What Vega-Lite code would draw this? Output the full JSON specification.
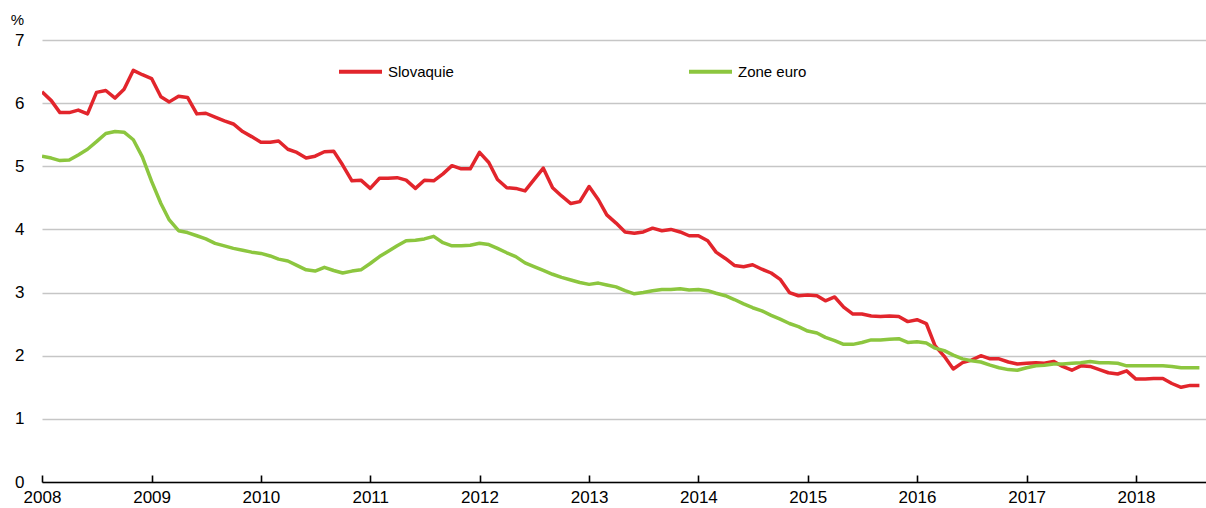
{
  "$schema": "https://vega.github.io/schema/vega-lite/v6.json",
  "width": 1164,
  "height": 442,
  "autosize": {"type": "none"},
  "padding": {"left": 42, "top": 40, "right": 0, "bottom": 26},
  "background": "white",
  "config": {
    "view": {"stroke": null},
    "font": "Liberation Sans, Arial, sans-serif"
  },
  "datasets": {
    "rates": [
      {"month": "2008-01-01", "Slovaquie": 6.18, "Zone euro": 5.16},
      {"month": "2008-02-01", "Slovaquie": 6.04, "Zone euro": 5.13},
      {"month": "2008-03-01", "Slovaquie": 5.85, "Zone euro": 5.09},
      {"month": "2008-04-01", "Slovaquie": 5.85, "Zone euro": 5.10},
      {"month": "2008-05-01", "Slovaquie": 5.89, "Zone euro": 5.18},
      {"month": "2008-06-01", "Slovaquie": 5.83, "Zone euro": 5.27},
      {"month": "2008-07-01", "Slovaquie": 6.17, "Zone euro": 5.39},
      {"month": "2008-08-01", "Slovaquie": 6.20, "Zone euro": 5.52},
      {"month": "2008-09-01", "Slovaquie": 6.08, "Zone euro": 5.55},
      {"month": "2008-10-01", "Slovaquie": 6.22, "Zone euro": 5.54},
      {"month": "2008-11-01", "Slovaquie": 6.52, "Zone euro": 5.42},
      {"month": "2008-12-01", "Slovaquie": 6.45, "Zone euro": 5.15},
      {"month": "2009-01-01", "Slovaquie": 6.39, "Zone euro": 4.76},
      {"month": "2009-02-01", "Slovaquie": 6.10, "Zone euro": 4.41},
      {"month": "2009-03-01", "Slovaquie": 6.02, "Zone euro": 4.15},
      {"month": "2009-04-01", "Slovaquie": 6.11, "Zone euro": 3.98},
      {"month": "2009-05-01", "Slovaquie": 6.09, "Zone euro": 3.95},
      {"month": "2009-06-01", "Slovaquie": 5.83, "Zone euro": 3.90},
      {"month": "2009-07-01", "Slovaquie": 5.84, "Zone euro": 3.85},
      {"month": "2009-08-01", "Slovaquie": 5.78, "Zone euro": 3.78},
      {"month": "2009-09-01", "Slovaquie": 5.72, "Zone euro": 3.74},
      {"month": "2009-10-01", "Slovaquie": 5.67, "Zone euro": 3.70},
      {"month": "2009-11-01", "Slovaquie": 5.55, "Zone euro": 3.67},
      {"month": "2009-12-01", "Slovaquie": 5.47, "Zone euro": 3.64},
      {"month": "2010-01-01", "Slovaquie": 5.38, "Zone euro": 3.62},
      {"month": "2010-02-01", "Slovaquie": 5.38, "Zone euro": 3.58},
      {"month": "2010-03-01", "Slovaquie": 5.40, "Zone euro": 3.53},
      {"month": "2010-04-01", "Slovaquie": 5.27, "Zone euro": 3.50},
      {"month": "2010-05-01", "Slovaquie": 5.22, "Zone euro": 3.43},
      {"month": "2010-06-01", "Slovaquie": 5.13, "Zone euro": 3.36},
      {"month": "2010-07-01", "Slovaquie": 5.16, "Zone euro": 3.34},
      {"month": "2010-08-01", "Slovaquie": 5.23, "Zone euro": 3.40},
      {"month": "2010-09-01", "Slovaquie": 5.24, "Zone euro": 3.35},
      {"month": "2010-10-01", "Slovaquie": 5.02, "Zone euro": 3.31},
      {"month": "2010-11-01", "Slovaquie": 4.77, "Zone euro": 3.34},
      {"month": "2010-12-01", "Slovaquie": 4.78, "Zone euro": 3.36},
      {"month": "2011-01-01", "Slovaquie": 4.65, "Zone euro": 3.46},
      {"month": "2011-02-01", "Slovaquie": 4.81, "Zone euro": 3.57},
      {"month": "2011-03-01", "Slovaquie": 4.81, "Zone euro": 3.65},
      {"month": "2011-04-01", "Slovaquie": 4.82, "Zone euro": 3.74},
      {"month": "2011-05-01", "Slovaquie": 4.78, "Zone euro": 3.82},
      {"month": "2011-06-01", "Slovaquie": 4.65, "Zone euro": 3.83},
      {"month": "2011-07-01", "Slovaquie": 4.78, "Zone euro": 3.85},
      {"month": "2011-08-01", "Slovaquie": 4.77, "Zone euro": 3.89},
      {"month": "2011-09-01", "Slovaquie": 4.88, "Zone euro": 3.79},
      {"month": "2011-10-01", "Slovaquie": 5.01, "Zone euro": 3.74},
      {"month": "2011-11-01", "Slovaquie": 4.96, "Zone euro": 3.74},
      {"month": "2011-12-01", "Slovaquie": 4.96, "Zone euro": 3.75},
      {"month": "2012-01-01", "Slovaquie": 5.22, "Zone euro": 3.78},
      {"month": "2012-02-01", "Slovaquie": 5.06, "Zone euro": 3.76},
      {"month": "2012-03-01", "Slovaquie": 4.79, "Zone euro": 3.70},
      {"month": "2012-04-01", "Slovaquie": 4.66, "Zone euro": 3.63},
      {"month": "2012-05-01", "Slovaquie": 4.65, "Zone euro": 3.57},
      {"month": "2012-06-01", "Slovaquie": 4.61, "Zone euro": 3.47},
      {"month": "2012-07-01", "Slovaquie": 4.79, "Zone euro": 3.41},
      {"month": "2012-08-01", "Slovaquie": 4.97, "Zone euro": 3.35},
      {"month": "2012-09-01", "Slovaquie": 4.66, "Zone euro": 3.29},
      {"month": "2012-10-01", "Slovaquie": 4.53, "Zone euro": 3.24},
      {"month": "2012-11-01", "Slovaquie": 4.41, "Zone euro": 3.20},
      {"month": "2012-12-01", "Slovaquie": 4.44, "Zone euro": 3.16},
      {"month": "2013-01-01", "Slovaquie": 4.68, "Zone euro": 3.13},
      {"month": "2013-02-01", "Slovaquie": 4.47, "Zone euro": 3.15},
      {"month": "2013-03-01", "Slovaquie": 4.23, "Zone euro": 3.12},
      {"month": "2013-04-01", "Slovaquie": 4.10, "Zone euro": 3.09},
      {"month": "2013-05-01", "Slovaquie": 3.96, "Zone euro": 3.03},
      {"month": "2013-06-01", "Slovaquie": 3.94, "Zone euro": 2.98},
      {"month": "2013-07-01", "Slovaquie": 3.96, "Zone euro": 3.00},
      {"month": "2013-08-01", "Slovaquie": 4.02, "Zone euro": 3.03},
      {"month": "2013-09-01", "Slovaquie": 3.98, "Zone euro": 3.05},
      {"month": "2013-10-01", "Slovaquie": 4.00, "Zone euro": 3.05},
      {"month": "2013-11-01", "Slovaquie": 3.96, "Zone euro": 3.06},
      {"month": "2013-12-01", "Slovaquie": 3.90, "Zone euro": 3.04},
      {"month": "2014-01-01", "Slovaquie": 3.90, "Zone euro": 3.05},
      {"month": "2014-02-01", "Slovaquie": 3.82, "Zone euro": 3.03},
      {"month": "2014-03-01", "Slovaquie": 3.64, "Zone euro": 2.99},
      {"month": "2014-04-01", "Slovaquie": 3.54, "Zone euro": 2.95},
      {"month": "2014-05-01", "Slovaquie": 3.43, "Zone euro": 2.89},
      {"month": "2014-06-01", "Slovaquie": 3.41, "Zone euro": 2.82},
      {"month": "2014-07-01", "Slovaquie": 3.44, "Zone euro": 2.76},
      {"month": "2014-08-01", "Slovaquie": 3.37, "Zone euro": 2.71},
      {"month": "2014-09-01", "Slovaquie": 3.31, "Zone euro": 2.64},
      {"month": "2014-10-01", "Slovaquie": 3.21, "Zone euro": 2.58},
      {"month": "2014-11-01", "Slovaquie": 3.00, "Zone euro": 2.51},
      {"month": "2014-12-01", "Slovaquie": 2.95, "Zone euro": 2.46},
      {"month": "2015-01-01", "Slovaquie": 2.96, "Zone euro": 2.39},
      {"month": "2015-02-01", "Slovaquie": 2.95, "Zone euro": 2.36},
      {"month": "2015-03-01", "Slovaquie": 2.87, "Zone euro": 2.29},
      {"month": "2015-04-01", "Slovaquie": 2.93, "Zone euro": 2.24},
      {"month": "2015-05-01", "Slovaquie": 2.77, "Zone euro": 2.18},
      {"month": "2015-06-01", "Slovaquie": 2.66, "Zone euro": 2.18},
      {"month": "2015-07-01", "Slovaquie": 2.66, "Zone euro": 2.21},
      {"month": "2015-08-01", "Slovaquie": 2.63, "Zone euro": 2.25},
      {"month": "2015-09-01", "Slovaquie": 2.62, "Zone euro": 2.25},
      {"month": "2015-10-01", "Slovaquie": 2.63, "Zone euro": 2.26},
      {"month": "2015-11-01", "Slovaquie": 2.62, "Zone euro": 2.27},
      {"month": "2015-12-01", "Slovaquie": 2.54, "Zone euro": 2.21},
      {"month": "2016-01-01", "Slovaquie": 2.57, "Zone euro": 2.22},
      {"month": "2016-02-01", "Slovaquie": 2.51, "Zone euro": 2.20},
      {"month": "2016-03-01", "Slovaquie": 2.16, "Zone euro": 2.12},
      {"month": "2016-04-01", "Slovaquie": 1.99, "Zone euro": 2.08},
      {"month": "2016-05-01", "Slovaquie": 1.79, "Zone euro": 2.01},
      {"month": "2016-06-01", "Slovaquie": 1.89, "Zone euro": 1.95},
      {"month": "2016-07-01", "Slovaquie": 1.93, "Zone euro": 1.92},
      {"month": "2016-08-01", "Slovaquie": 2.00, "Zone euro": 1.90},
      {"month": "2016-09-01", "Slovaquie": 1.95, "Zone euro": 1.85},
      {"month": "2016-10-01", "Slovaquie": 1.95, "Zone euro": 1.81},
      {"month": "2016-11-01", "Slovaquie": 1.90, "Zone euro": 1.78},
      {"month": "2016-12-01", "Slovaquie": 1.87, "Zone euro": 1.77},
      {"month": "2017-01-01", "Slovaquie": 1.88, "Zone euro": 1.81},
      {"month": "2017-02-01", "Slovaquie": 1.89, "Zone euro": 1.84},
      {"month": "2017-03-01", "Slovaquie": 1.88, "Zone euro": 1.85},
      {"month": "2017-04-01", "Slovaquie": 1.91, "Zone euro": 1.87},
      {"month": "2017-05-01", "Slovaquie": 1.83, "Zone euro": 1.87},
      {"month": "2017-06-01", "Slovaquie": 1.77, "Zone euro": 1.88},
      {"month": "2017-07-01", "Slovaquie": 1.84, "Zone euro": 1.89},
      {"month": "2017-08-01", "Slovaquie": 1.83, "Zone euro": 1.91},
      {"month": "2017-09-01", "Slovaquie": 1.78, "Zone euro": 1.89},
      {"month": "2017-10-01", "Slovaquie": 1.73, "Zone euro": 1.89},
      {"month": "2017-11-01", "Slovaquie": 1.71, "Zone euro": 1.88},
      {"month": "2017-12-01", "Slovaquie": 1.76, "Zone euro": 1.84},
      {"month": "2018-01-01", "Slovaquie": 1.63, "Zone euro": 1.84},
      {"month": "2018-02-01", "Slovaquie": 1.63, "Zone euro": 1.84},
      {"month": "2018-03-01", "Slovaquie": 1.64, "Zone euro": 1.84},
      {"month": "2018-04-01", "Slovaquie": 1.64, "Zone euro": 1.84},
      {"month": "2018-05-01", "Slovaquie": 1.56, "Zone euro": 1.83},
      {"month": "2018-06-01", "Slovaquie": 1.50, "Zone euro": 1.81},
      {"month": "2018-07-01", "Slovaquie": 1.53, "Zone euro": 1.81},
      {"month": "2018-08-01", "Slovaquie": 1.53, "Zone euro": 1.81}
    ]
  },
  "data": {"name": "rates"},
  "transform": [
    {"fold": ["Slovaquie", "Zone euro"], "as": ["series", "value"]}
  ],
  "mark": {"type": "line", "strokeWidth": 3.5, "strokeJoin": "round", "clip": true},
  "encoding": {
    "x": {
      "field": "month",
      "type": "temporal",
      "scale": {
        "type": "utc",
        "domain": [
          {"year": 2008, "month": 1, "date": 1, "utc": true},
          {"year": 2018, "month": 8, "date": 23, "utc": true}
        ]
      },
      "axis": {
        "title": null,
        "format": "%Y",
        "formatType": "utc",
        "values": [
          {"year": 2008, "month": 1, "date": 1, "utc": true},
          {"year": 2009, "month": 1, "date": 1, "utc": true},
          {"year": 2010, "month": 1, "date": 1, "utc": true},
          {"year": 2011, "month": 1, "date": 1, "utc": true},
          {"year": 2012, "month": 1, "date": 1, "utc": true},
          {"year": 2013, "month": 1, "date": 1, "utc": true},
          {"year": 2014, "month": 1, "date": 1, "utc": true},
          {"year": 2015, "month": 1, "date": 1, "utc": true},
          {"year": 2016, "month": 1, "date": 1, "utc": true},
          {"year": 2017, "month": 1, "date": 1, "utc": true},
          {"year": 2018, "month": 1, "date": 1, "utc": true}
        ],
        "grid": false,
        "domain": true,
        "domainColor": "#000000",
        "domainWidth": 1.6,
        "ticks": true,
        "tickSize": -7,
        "tickColor": "#000000",
        "tickWidth": 1.6,
        "labelPadding": 27,
        "labelFontSize": 17,
        "labelColor": "#000000",
        "labelFlush": false,
        "labelOverlap": false,
        "labelBaseline": "alphabetic"
      }
    },
    "y": {
      "field": "value",
      "type": "quantitative",
      "scale": {"domain": [0, 7], "nice": false, "zero": true},
      "axis": {
        "values": [0, 1, 2, 3, 4, 5, 6, 7],
        "grid": true,
        "gridColor": "#c6c6c6",
        "gridWidth": 1.4,
        "domain": false,
        "ticks": false,
        "labelPadding": 18,
        "labelFontSize": 17,
        "labelColor": "#000000",
        "title": "%",
        "titleAngle": 0,
        "titleAlign": "center",
        "titleBaseline": "middle",
        "titleX": -25,
        "titleY": -21,
        "titleFontSize": 15,
        "titleFontWeight": "normal",
        "titleColor": "#000000"
      }
    },
    "color": {
      "field": "series",
      "type": "nominal",
      "scale": {"domain": ["Slovaquie", "Zone euro"], "range": ["#e2252c", "#8cc63f"]},
      "legend": {
        "title": null,
        "orient": "none",
        "legendX": 295,
        "legendY": 8,
        "direction": "horizontal",
        "padding": 0,
        "columnPadding": 227,
        "symbolType": "stroke",
        "symbolSize": 1849,
        "symbolStrokeWidth": 4,
        "labelFontSize": 15,
        "labelColor": "#000000",
        "labelOffset": 4
      }
    }
  }
}
